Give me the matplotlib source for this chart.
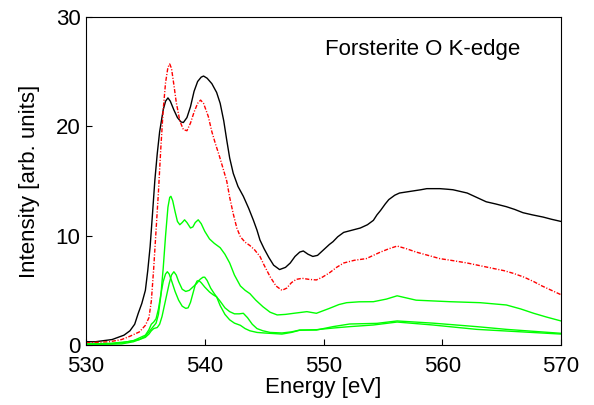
import matplotlib
matplotlib.use("Agg")
import matplotlib.pyplot as plt

plt.rcParams['font.family'] = ['Liberation Sans', 'DejaVu Sans']

# experimental spectrum (black)
exp_e = [530, 530.8, 531.5, 532.2, 532.7, 533.2, 533.7, 534.1, 534.4, 534.7, 535.0, 535.2,
         535.4, 535.6, 535.8, 536.0, 536.2, 536.5, 536.7, 536.9, 537.1, 537.4, 537.7,
         538.0, 538.2, 538.5, 538.8, 539.1, 539.4, 539.7, 539.9, 540.2, 540.6, 541.0,
         541.3, 541.6, 541.85, 542.1, 542.4, 542.8, 543.25, 543.7, 544.1, 544.4, 544.65,
         545.0, 545.4, 545.8, 546.3, 546.8, 547.2, 547.6, 548.0, 548.3, 548.7, 549.1,
         549.5, 550.0, 550.5, 550.8, 551.2, 551.7, 552.4, 553.1, 553.7, 554.2, 554.5,
         554.8, 555.2, 555.5, 556.0, 556.4, 557.0, 557.6, 558.2, 558.7, 559.3, 559.8,
         560.4, 560.9, 561.5, 562.1, 562.9, 563.7, 564.5, 565.4, 566.1, 566.8, 567.6,
         568.5, 569.2, 570]
exp_i = [0.3, 0.3, 0.4, 0.5, 0.7, 0.9, 1.3, 1.9, 2.9, 3.8, 5.0, 6.8,
         9.0, 12.0, 15.1, 17.5, 19.5, 21.5, 22.3, 22.6, 22.3, 21.5, 20.8,
         20.4, 20.35, 20.8, 21.8, 23.2, 24.1, 24.5, 24.6, 24.4, 23.9, 23.1,
         22.1, 20.5, 18.75, 17.1, 15.7, 14.5, 13.6, 12.5, 11.4, 10.5, 9.6,
         8.8, 8.0, 7.3, 6.9, 7.1, 7.5, 8.1, 8.5, 8.6, 8.3, 8.1,
         8.2, 8.7, 9.2, 9.45, 9.9, 10.3, 10.5, 10.7, 11.0, 11.4, 11.9,
         12.3, 12.9, 13.3, 13.7, 13.9, 14.0, 14.1, 14.2, 14.3, 14.3, 14.3,
         14.25, 14.2, 14.05, 13.9, 13.5, 13.1, 12.9, 12.65, 12.4, 12.1, 11.9,
         11.7, 11.5, 11.3]

# calculated total (red dash-dot)
calc_e = [530, 532, 533.0, 533.7, 534.5, 535.0, 535.3, 535.5, 535.7, 535.9, 536.1, 536.3,
          536.5, 536.7, 536.9, 537.05, 537.2, 537.4, 537.6, 537.9, 538.2, 538.5, 538.8,
          539.1, 539.4, 539.65, 539.9, 540.3, 540.6, 540.9, 541.2, 541.5, 541.85, 542.1,
          542.4, 542.7, 543.0, 543.4, 543.8, 544.2, 544.65, 545.0, 545.5, 546.0, 546.5,
          546.9, 547.3, 547.7, 548.2, 548.8, 549.4, 549.9, 550.5, 551.1, 551.7, 552.6,
          553.6, 554.2, 554.8, 555.5, 556.2, 557.0, 557.8, 558.8, 559.8, 561.0, 562.1,
          563.2, 564.3, 565.2, 566.0, 566.9, 567.7, 568.4, 569.2, 570]
calc_i = [0.2, 0.3, 0.5, 0.8, 1.2, 1.8, 2.5, 4.0, 7.0, 10.5, 14.0, 18.0,
          21.5, 24.0, 25.4, 25.7, 25.3, 23.8, 22.2, 20.5, 19.7, 19.6, 20.3,
          21.3, 22.1, 22.4, 22.1, 20.9, 19.5, 18.4, 17.4, 16.3, 15.0, 13.5,
          12.0, 10.7, 9.9, 9.4, 9.1, 8.7, 8.1, 7.3, 6.25, 5.4, 5.0,
          5.2, 5.7, 6.0, 6.1, 6.0, 5.95, 6.2, 6.6, 7.1, 7.5, 7.75,
          7.9, 8.2, 8.5, 8.8, 9.05, 8.8, 8.5, 8.2, 7.9, 7.7, 7.5,
          7.25, 7.0, 6.8, 6.55, 6.2, 5.8, 5.4, 5.0, 4.6]

# site contributions (green)
s1_e = [530, 532, 533.5, 534.5, 535.0, 535.6, 535.9, 536.1, 536.3, 536.5, 536.7, 536.9,
        537.05, 537.15, 537.3, 537.5, 537.7, 537.9, 538.1, 538.3, 538.5, 538.8, 539.0,
        539.2, 539.45, 539.7, 540.0, 540.4, 540.8, 541.3, 541.7, 542.1, 542.5, 543.0,
        543.4, 543.8, 544.3, 544.9, 545.5, 546.1, 546.8, 547.5, 548.6, 549.4, 550.5,
        551.3, 551.95, 553.0, 554.2, 555.3, 556.2, 557.8, 560.65, 563.2, 565.4, 566.6,
        567.7, 568.8, 570]
s1_i = [0.1, 0.15, 0.3, 0.5, 0.8, 1.6, 2.0, 2.8, 4.5, 7.0, 10.0, 12.6,
        13.5, 13.6, 13.2, 12.2, 11.3, 11.0, 11.2, 11.45, 11.2, 10.7, 10.8,
        11.2, 11.45, 11.1, 10.4, 9.7, 9.3, 8.9, 8.3, 7.5, 6.4, 5.4,
        5.0, 4.7, 4.1, 3.5, 3.0, 2.75, 2.8, 2.9, 3.05, 2.9, 3.35,
        3.7, 3.87, 3.95, 3.96, 4.2, 4.5, 4.1, 3.96, 3.87, 3.66, 3.3,
        2.9, 2.55, 2.2]

s2_e = [530, 532, 533, 534, 535.0, 535.3, 535.5, 535.7, 535.9, 536.1, 536.3, 536.5,
        536.7, 536.85, 537.0, 537.2, 537.5, 537.8, 538.1, 538.4, 538.6, 538.8, 539.0,
        539.2, 539.35, 539.5, 539.7, 540.0, 540.4, 540.7, 541.0, 541.3, 541.7, 542.1,
        542.5, 542.9, 543.25, 543.6, 544.0, 544.4, 544.9, 545.5, 546.5, 547.3, 548.0,
        549.4, 550.8, 552.2, 554.5, 556.2, 559.2, 562.9, 565.4, 570]
s2_i = [0.05, 0.1, 0.2, 0.4, 0.9, 1.4, 1.9, 2.1, 2.4, 3.3, 4.6, 5.8,
        6.5, 6.7, 6.5, 5.9, 4.9, 4.1, 3.55, 3.35, 3.4, 3.9, 4.7,
        5.5, 5.85, 5.9, 5.7, 5.3, 4.85, 4.6, 4.4, 4.0, 3.4, 3.05,
        2.85, 2.85, 2.9, 2.5, 1.9, 1.5, 1.3, 1.15, 1.1, 1.2, 1.37,
        1.37, 1.68, 1.92, 1.98, 2.2, 2.0, 1.68, 1.43, 1.07]

s3_e = [530, 532, 533, 534, 535.0, 535.3, 535.5, 535.7, 536.0, 536.2, 536.4, 536.6,
        536.8, 537.0, 537.2, 537.4, 537.6, 537.8, 538.1, 538.4, 538.7, 539.0, 539.3,
        539.6, 539.85, 540.0, 540.2, 540.5, 540.8, 541.0, 541.3, 541.7, 542.1, 542.5,
        543.0, 543.4, 543.8, 544.4, 545.0, 546.5, 547.3, 548.0, 549.4, 550.8, 552.2,
        554.2, 556.2, 559.2, 562.9, 570]
s3_i = [0.05, 0.08, 0.1, 0.3, 0.7, 1.0, 1.3, 1.5, 1.6, 1.9, 2.6, 3.6,
        4.6, 5.6, 6.4, 6.7, 6.4, 5.8, 5.1, 4.9, 5.0, 5.3, 5.6,
        6.0, 6.2, 6.2, 5.9, 5.2, 4.7, 4.4, 3.6, 2.8, 2.3, 2.0,
        1.8, 1.5, 1.3, 1.15, 1.1, 1.0, 1.15, 1.35, 1.4, 1.55, 1.68,
        1.83, 2.1, 1.83, 1.43, 1.0]

fig = plt.figure(figsize=(5.94, 4.05), dpi=100)
ax = fig.add_axes([86 / 594, 1 - 345 / 405, 475 / 594, 328 / 405])

ax.plot(exp_e, exp_i, color='black', lw=1)
ax.plot(calc_e, calc_i, color='red', lw=1, dashes=(3, 1.2, 0.8, 1.2))
ax.plot(s1_e, s1_i, color='#00ff00', lw=1)
ax.plot(s2_e, s2_i, color='#00ff00', lw=1)
ax.plot(s3_e, s3_i, color='#00ff00', lw=1)

ax.set_xlim(530, 570)
ax.set_ylim(0, 30)
ax.set_xticks([530, 540, 550, 560, 570])
ax.set_yticks([0, 10, 20, 30])
ax.tick_params(direction='in', labelsize=16, length=4)
ax.tick_params(axis='x', pad=8)
ax.tick_params(axis='y', pad=4)
ax.set_xlabel('Energy [eV]', fontsize=16, labelpad=0)
ax.set_ylabel('Intensity [arb. units]', fontsize=16, labelpad=11)
ax.text(0.503, 0.90, 'Forsterite O K-edge', transform=ax.transAxes,
        fontsize=16, va='center', ha='left')

fig.savefig('out.png', dpi=100)
